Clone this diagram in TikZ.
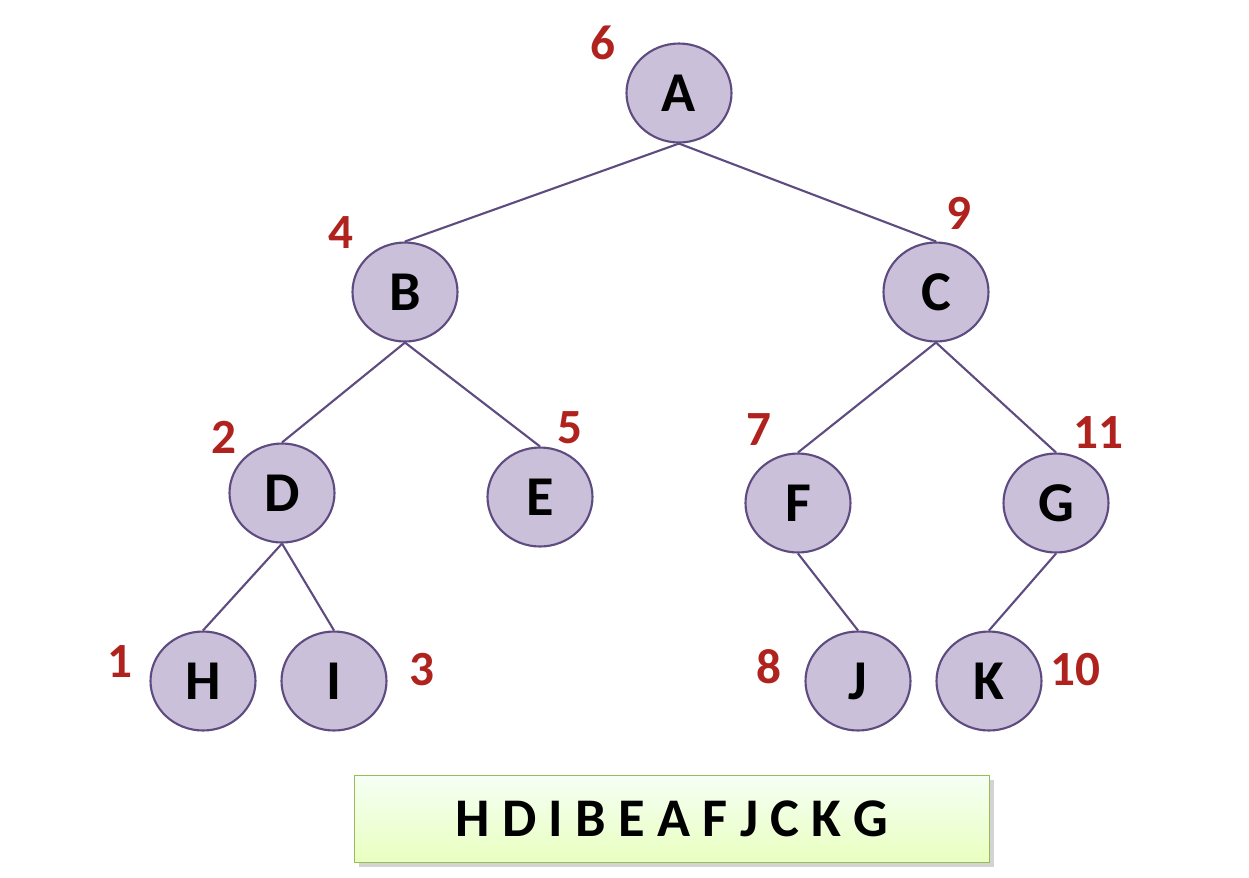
\documentclass[tikz,border=0pt]{standalone}
\usepackage{fontspec}
\setmainfont{Carlito}
\usetikzlibrary{shapes.geometric,shadows}
\definecolor{nodefill}{HTML}{CBC0DA}
\definecolor{nodeline}{HTML}{5E4B80}
\definecolor{numred}{HTML}{B0221E}
\definecolor{boxline}{HTML}{9BBB59}

\tikzset{
    treenode/.style={ellipse, draw=nodeline, fill=nodefill, line width=1.2pt,
        minimum width=2.1cm, minimum height=1.98cm, inner sep=0pt,
        font=\fontsize{32}{36}\selectfont\bfseries},
    order/.style={text=numred, font=\fontsize{28}{32}\selectfont\bfseries},
    branch/.style={draw=nodeline, line width=1.2pt}
}

\begin{document}
\begin{tikzpicture}[x=0.02cm, y=-0.02cm]

    \useasboundingbox (0, 0) rectangle (1249, 877);

    % tree
    \node[treenode] (A) at (679, 93) {A};
    \node[treenode] (B) at (405, 292) {B};
    \node[treenode] (C) at (936, 292) {C};
    \node[treenode] (D) at (282, 493) {D};
    \node[treenode] (E) at (540, 497) {E};
    \node[treenode] (F) at (798, 503) {F};
    \node[treenode] (G) at (1056, 503) {G};
    \node[treenode] (H) at (203, 681) {H};
    \node[treenode] (I) at (334, 681) {I};
    \node[treenode] (J) at (858, 681) {J};
    \node[treenode] (K) at (989, 681) {K};

    \draw[branch] (A.south) -- (B.north);
    \draw[branch] (A.south) -- (C.north);
    \draw[branch] (B.south) -- (D.north);
    \draw[branch] (B.south) -- (E.north);
    \draw[branch] (C.south) -- (F.north);
    \draw[branch] (C.south) -- (G.north);
    \draw[branch] (D.south) -- (H.north);
    \draw[branch] (D.south) -- (I.north);
    \draw[branch] (F.south) -- (J.north);
    \draw[branch] (G.south) -- (K.north);

    % inorder numbers
    \node[order] (nA) at (603, 43) {6};
    \node[order] (nB) at (341, 233) {4};
    \node[order] (nC) at (959, 213) {9};
    \node[order] (nD) at (224, 437) {2};
    \node[order] (nE) at (570, 428) {5};
    \node[order] (nF) at (759, 430) {7};
    \node[order] (nG) at (1098, 433) {11};
    \node[order] (nH) at (120, 662) {1};
    \node[order] (nI) at (422, 670) {3};
    \node[order] (nJ) at (769, 667) {8};
    \node[order] (nK) at (1075, 670) {10};

    % result
    \node[draw=boxline, line width=1pt, top color=green!4!white, bottom color=green!35!yellow!25!white,
        drop shadow={opacity=0.35}, minimum width=12.7cm, minimum height=1.74cm,
        font=\fontsize{31}{36}\selectfont\bfseries] (seq) at (672, 819) {H D I B E A F J C K G};

\end{tikzpicture}
\end{document}
